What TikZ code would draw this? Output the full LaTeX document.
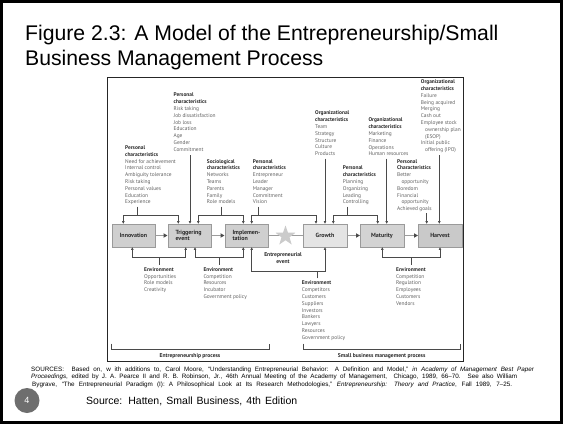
\documentclass[tikz,border=0pt]{standalone}
\usepackage{fontspec}
\setmainfont{Liberation Sans}
\newfontfamily\dfont{PT Sans}
\usetikzlibrary{arrows.meta,shapes.geometric}
\definecolor{hdc}{HTML}{2A2A2A}
\definecolor{itc}{HTML}{626262}
\definecolor{lnc}{HTML}{4A4A4A}
\definecolor{boxline}{HTML}{9A9A9A}
\definecolor{flowc}{HTML}{9C9C9C}
\definecolor{boxA}{HTML}{CFCFCF}
\definecolor{boxG}{HTML}{E4E4E4}
\definecolor{boxM}{HTML}{D3D3D3}
\definecolor{boxH}{HTML}{C9C9C9}
\definecolor{starc}{HTML}{CBCBCB}
\definecolor{circc}{HTML}{6E6E6E}
\newcommand\hdr[1]{{\color{hdc}\bfseries #1}}
\begin{document}
\begin{tikzpicture}[x=1pt,y=-1pt,
  txt/.style={anchor=base west, inner sep=0pt, align=left, text=itc,
    font=\dfont\fontsize{5.4}{6.8}\selectfont},
  proc/.style={draw=boxline, line width=0.5pt, minimum width=43.5pt,
    minimum height=23pt, inner sep=0pt, align=center, text=hdc,
    font=\dfont\bfseries\fontsize{6}{6.8}\selectfont},
  con/.style={draw=lnc, line width=0.55pt},
  arr/.style={con, -{Triangle[length=2.6pt,width=2.4pt]}},
  flow/.style={draw=flowc, line width=1.6pt,
    -{Triangle[length=4pt,width=4.2pt,color=lnc]}},
  lbl/.style={inner sep=0pt, anchor=base, text=hdc,
    font=\dfont\bfseries\fontsize{5.6}{6.8}\selectfont}
]
\useasboundingbox (0,0) rectangle (563,424);
\fill[white] (0,0) rectangle (563,424);
\draw[line width=3pt] (1.5,1.5) rectangle (561.5,422.5);

% title
\node[anchor=base west, inner sep=0, font=\fontsize{21.2}{25}\selectfont] (title1) at (25,40)
  {Figure 2.3: A Model of the Entrepreneurship/Small};
\node[anchor=base west, inner sep=0, font=\fontsize{21.2}{25}\selectfont] (title2) at (25,65)
  {Business Management Process};

% diagram frame
\node[draw=black!85, line width=0.7pt, minimum width=355.7pt, minimum height=283.4pt,
  anchor=north west, inner sep=0] (frame) at (107,77.3) {};

% process boxes
\node[proc, fill=boxA] (inno) at (133.5,235.5) {Innovation};
\node[proc, fill=boxA, text width=28pt, align=left] (trig) at (189.5,235.5) {Triggering\\event};
\node[proc, fill=boxA, text width=28pt, align=left] (impl) at (246.5,235.5) {Implemen-\\tation};
\node[proc, fill=boxG] (grow) at (325,235.5) {Growth};
\node[proc, fill=boxM] (matu) at (382,235.5) {Maturity};
\node[proc, fill=boxH] (harv) at (440,235.5) {Harvest};

% flow
\draw[flow] (inno) -- (trig);
\draw[flow] (trig) -- (impl);
\draw[draw=flowc, line width=1.6pt] (impl) -- (grow);
\node[star, star points=5, star point ratio=2.5, fill=starc, inner sep=0pt,
  minimum size=21pt] (star) at (285.5,236) {};
\draw[flow] (grow) -- (matu);
\draw[flow] (matu) -- (harv);
\node[lbl, align=center] (eevent) at (283,263.2) {Entrepreneurial\\event};

% top text blocks (anchor = baseline of last line)
\node[txt] (tA) at (173.5,151.3) {\hdr{Personal}\\\hdr{characteristics}\\Risk taking\\Job dissatisfaction\\Job loss\\Education\\Age\\Gender\\Commitment};
\node[txt] (tB) at (420.7,151.6) {\hdr{Organizational}\\\hdr{characteristics}\\Failure\\Being acquired\\Merging\\Cash out\\Employee stock\\\hspace*{4.3pt}ownership plan\\\hspace*{4.3pt}(ESOP)\\Initial public\\\hspace*{4.3pt}offering (IPO)};
\node[txt] (tC) at (315,155.7) {\hdr{Organizational}\\\hdr{characteristics}\\Team\\Strategy\\Structure\\Culture\\Products};
\node[txt] (tD) at (368.3,155.9) {\hdr{Organizational}\\\hdr{characteristics}\\Marketing\\Finance\\Operations\\Human resources};
\node[txt] (tE) at (125,203.9) {\hdr{Personal}\\\hdr{characteristics}\\Need for achievement\\Internal control\\Ambiguity tolerance\\Risk taking\\Personal values\\Education\\Experience};
\node[txt] (tF) at (206.7,203.9) {\hdr{Sociological}\\\hdr{characteristics}\\Networks\\Teams\\Parents\\Family\\Role models};
\node[txt] (tG) at (252.7,203.9) {\hdr{Personal}\\\hdr{characteristics}\\Entrepreneur\\Leader\\Manager\\Commitment\\Vision};
\node[txt] (tH) at (342.7,203.9) {\hdr{Personal}\\\hdr{characteristics}\\Planning\\Organizing\\Leading\\Controlling};
\node[txt] (tI) at (397,210.7) {\hdr{Personal}\\\hdr{Characteristics}\\Better\\\hspace*{4.3pt}opportunity\\Boredom\\Financial\\\hspace*{4.3pt}opportunity\\Achieved goals};

% bottom text blocks
\node[txt] (tJ) at (144,291.6) {\hdr{Environment}\\Opportunities\\Role models\\Creativity};
\node[txt] (tK) at (203.3,298.4) {\hdr{Environment}\\Competition\\Resources\\Incubator\\Government policy};
\node[txt] (tL) at (301.7,339.3) {\hdr{Environment}\\Competitors\\Customers\\Suppliers\\Investors\\Bankers\\Lawyers\\Resources\\Government policy};
\node[txt] (tM) at (396,305.2) {\hdr{Environment}\\Competition\\Regulation\\Employees\\Customers\\Vendors};

% long single arrows from top blocks
\coordinate (aS) at (190,155);
\draw[arr] (aS) -- (190,0 |- trig.north);
\coordinate (bS) at (439.3,155);
\draw[arr] (bS) -- (439.3,0 |- harv.north);
\coordinate (cS) at (325,158.5);
\draw[arr] (cS) -- (325,0 |- grow.north);
\coordinate (dS) at (386.7,158.5);
\draw[arr] (dS) -- (386.7,0 |- matu.north);
\coordinate (iS) at (426.7,213);
\draw[arr] (iS) -- (426.7,0 |- harv.north);

% top brackets
\coordinate (eS) at (137.7,206.5); \coordinate (eJ) at (137.7,215);
\draw[con] (eS) -- (eJ);
\draw[arr] (eJ) -| (123.3,0 |- inno.north);
\draw[arr] (eJ) -| (178.3,0 |- trig.north);
\coordinate (fS) at (221,206.5); \coordinate (fJ) at (221,215);
\draw[con] (fS) -- (fJ);
\draw[arr] (fJ) -| (198.3,0 |- trig.north);
\draw[arr] (fJ) -| (243.3,0 |- impl.north);
\coordinate (gS) at (258,206.5); \coordinate (gJ) at (258,215);
\draw[con] (gS) -- (gJ);
\draw[arr] (gJ) -| (251.7,0 |- impl.north);
\draw[arr] (gJ) -| (316,0 |- grow.north);
\coordinate (hS) at (347,206.5); \coordinate (hJ) at (347,215);
\draw[con] (hS) -- (hJ);
\draw[arr] (hJ) -| (333.3,0 |- grow.north);
\draw[arr] (hJ) -| (377.7,0 |- matu.north);

% bottom brackets
\coordinate (jS) at (159.3,264.5); \coordinate (jJ) at (159.3,257.7);
\draw[con] (jS) -- (jJ);
\draw[arr] (jJ) -| (132.3,0 |- inno.south);
\draw[arr] (jJ) -| (185.7,0 |- trig.south);
\coordinate (kS) at (219,264.5); \coordinate (kJ) at (219,257.7);
\draw[con] (kS) -- (kJ);
\draw[arr] (kJ) -| (195,0 |- trig.south);
\draw[arr] (kJ) -| (243.3,0 |- impl.south);
\coordinate (lS) at (317,278.3); \coordinate (lJ) at (317,271.5);
\draw[con] (lS) -- (lJ);
\draw[arr] (lJ) -| (251.7,0 |- impl.south);
\draw[arr] (lJ) -| (325,0 |- grow.south);
\coordinate (mS) at (411,264.5); \coordinate (mJ) at (411,257.7);
\draw[con] (mS) -- (mJ);
\draw[arr] (mJ) -| (382.3,0 |- matu.south);
\draw[arr] (mJ) -| (440,0 |- harv.south);

% process brackets
\coordinate (p1a) at (111.5,343.5); \coordinate (p1b) at (268.8,343.5);
\draw[con] (p1a) -- (111.5,349.3) -- (268.8,349.3) -- (p1b);
\node[lbl] (p1) at (190,357.2) {Entrepreneurship process};
\coordinate (p2a) at (303.3,343.5); \coordinate (p2b) at (460,343.5);
\draw[con] (p2a) -- (303.3,349.3) -- (460,349.3) -- (p2b);
\node[lbl] (p2) at (381.7,357.2) {Small business management process};

% sources
\node[anchor=base west, inner sep=0, font=\fontsize{6.3}{7.5}\selectfont] (src1) at (31,371)
  {\spaceskip=0.28em plus 1em minus 0.1em\hbox to 503pt{SOURCES:\ \ Based on, w ith additions to, Carol Moore, “Understanding Entrepreneurial Behavior: A Definition and Model,” \textit{in Academy of Management Best Paper}}};
\node[anchor=base west, inner sep=0, font=\fontsize{6.3}{7.5}\selectfont] (src2) at (31,378.5)
  {\spaceskip=0.28em plus 1em minus 0.1em\hbox to 486pt{\textit{Proceedings}, edited by J. A. Pearce II and R. B. Robinson, Jr., 46th Annual Meeting of the Academy of Management,\ \ Chicago, 1989, 66–70. See also William}};
\node[anchor=base west, inner sep=0, font=\fontsize{6.3}{7.5}\selectfont] (src3) at (32,386)
  {\spaceskip=0.28em plus 1em minus 0.1em\hbox to 480pt{Bygrave, “The Entrepreneurial Paradigm (I): A Philosophical Look at Its Research Methodologies,” \textit{Entrepreneurship: Theory and Practice}, Fall 1989, 7–25.}};
\node[anchor=base west, inner sep=0, font=\fontsize{10.5}{12}\selectfont] (hatten) at (86,404)
  {\spaceskip=0.28em plus 1em minus 0.1em\hbox to 211pt{Source: Hatten, Small Business, 4th Edition}};

% page number
\node[circle, fill=circc, minimum size=25pt, inner sep=0, text=white,
  font=\fontsize{9}{10}\selectfont] (pg) at (27,400.5) {4};
\end{tikzpicture}
\end{document}
